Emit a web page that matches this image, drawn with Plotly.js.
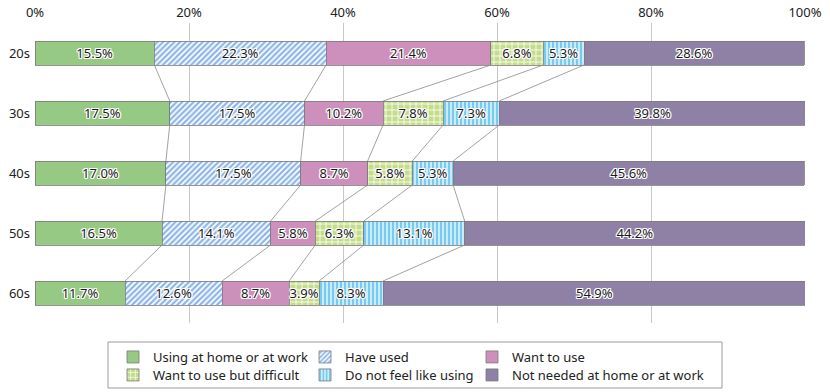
<!DOCTYPE html>
<html><head><meta charset="utf-8">
<script src="https://cdn.plot.ly/plotly-3.0.1.min.js"></script>
<style>html,body{margin:0;padding:0;background:#fff}</style>
</head><body><div id="chart" style="width:830px;height:392px"></div>
<script>
const ageGroups = ['20s', '30s', '40s', '50s', '60s'];
const usingAtHomeOrWork = [15.5, 17.5, 17.0, 16.5, 11.7];
const haveUsed = [22.3, 17.5, 17.5, 14.1, 12.6];
const wantToUse = [21.4, 10.2, 8.7, 5.8, 8.7];
const wantButDifficult = [6.8, 7.8, 5.8, 6.3, 3.9];
const doNotFeelLikeUsing = [5.3, 7.3, 5.3, 13.1, 8.3];
const notNeeded = [28.6, 39.8, 45.6, 44.2, 54.9];
const seriesNames = ['Using at home or at work', 'Have used', 'Want to use',
  'Want to use but difficult', 'Do not feel like using', 'Not needed at home or at work'];
const xTickVals = [0, 20, 40, 60, 80, 100];
const xTickText = ['0%', '20%', '40%', '60%', '80%', '100%'];

const seriesValues = [usingAtHomeOrWork, haveUsed, wantToUse, wantButDifficult, doNotFeelLikeUsing, notNeeded];
const FONT = '"Noto Sans", "DejaVu Sans", sans-serif';
const barWidth = 0.4;
const markers = [
  {color: '#96c983'},
  {color: '#8db6e9', pattern: {shape: '/', bgcolor: '#ffffff', fgcolor: '#8db6e9', size: 4, solidity: 0.55}},
  {color: '#cd90bd'},
  {color: '#c4dd8a', pattern: {shape: '+', bgcolor: '#c4dd8a', fgcolor: '#ffffff', size: 6, solidity: 0.25}},
  {color: '#c9ebfb', pattern: {shape: '|', bgcolor: '#c9ebfb', fgcolor: '#62c2ee', size: 4, solidity: 0.4}},
  {color: '#8f80a5'}
];
const legendIds = ['legend', 'legend2', 'legend3', 'legend4', 'legend5', 'legend6'];
const yPos = ageGroups.map((_, i) => i);
const halo = 'white 1px 0px 0px, white -1px 0px 0px, white 0px 1px 0px, white 0px -1px 0px, white 1px 1px 0px, white -1px -1px 0px, white 1px -1px 0px, white -1px 1px 0px';

const traces = seriesValues.map((vals, s) => {
  const m = Object.assign({line: {color: '#7a7a7a', width: 0.8}}, markers[s]);
  return {
    type: 'bar', orientation: 'h', name: seriesNames[s], x: vals, y: yPos,
    width: barWidth, marker: m, legend: legendIds[s],
    text: vals.map(v => v.toFixed(1) + '%'), textposition: 'inside',
    insidetextanchor: 'middle', textangle: 0, constraintext: 'none',
    textfont: {family: FONT, size: 13, color: '#1a1a1a', shadow: halo},
    hoverinfo: 'skip'
  };
});

// connector lines between cumulative boundaries
const cum = ageGroups.map((_, i) => {
  let acc = 0; const out = [];
  for (let s = 0; s < seriesValues.length; s++) { acc += seriesValues[s][i]; out.push(acc); }
  return out;
});
const cx = [], cy = [];
for (let k = 0; k < seriesValues.length - 1; k++) {
  for (let i = 0; i < ageGroups.length - 1; i++) {
    cx.push(cum[i][k], cum[i + 1][k], null);
    cy.push(i + barWidth / 2, i + 1 - barWidth / 2, null);
  }
}
traces.unshift({type: 'scatter', mode: 'lines', x: cx, y: cy, showlegend: false,
  line: {color: '#8a8a8a', width: 0.8}, hoverinfo: 'skip', connectgaps: false});

const PL = 35, PW = 770, PT = 23, PH = 300;
const px2x = p => (p - PL) / PW;
const py2y = p => (PT + PH - p) / PH;

const legendBase = {xanchor: 'left', yanchor: 'top',
  bgcolor: 'rgba(0,0,0,0)', borderwidth: 0, traceorder: 'normal',
  tracegroupgap: 0, font: {family: FONT, size: 13, color: '#222'}, itemclick: false};
const legendCols = [113, 305, 472];
const legendRows = [342, 360];

const layout = {
  width: 830, height: 392,
  margin: {l: PL, r: 830 - PL - PW, t: PT, b: 392 - PT - PH, pad: 0, autoexpand: false},
  paper_bgcolor: '#fff', plot_bgcolor: '#fff',
  barmode: 'stack', bargap: 0,
  font: {family: FONT, size: 13, color: '#222'},
  xaxis: {side: 'top', range: [0, 100], tickvals: xTickVals, ticktext: xTickText,
    showgrid: true, gridcolor: '#c8c8c8', gridwidth: 1, zeroline: false, showline: false,
    ticks: '', fixedrange: true, automargin: false, ticklabelstandoff: 2,
    tickfont: {family: FONT, size: 13, color: '#222'}},
  yaxis: {range: [4.5, -0.5], tickvals: yPos, ticktext: ageGroups, showgrid: false,
    zeroline: false, showline: false, ticks: '', fixedrange: true, automargin: false,
    ticklabelstandoff: 4, tickfont: {family: FONT, size: 13, color: '#222'}},
  shapes: [{type: 'rect', xref: 'paper', yref: 'paper',
    x0: px2x(108), x1: px2x(722), y0: py2y(342), y1: py2y(388),
    line: {color: '#9a9a9a', width: 1}, fillcolor: 'rgba(0,0,0,0)'}],
  showlegend: true
};
legendIds.forEach((id, s) => {
  layout[id] = Object.assign({}, legendBase, {
    x: px2x(legendCols[s % 3]), y: py2y(legendRows[Math.floor(s / 3)])
  });
});

Plotly.newPlot('chart', traces, layout, {displayModeBar: false, staticPlot: true});
</script></body></html>
